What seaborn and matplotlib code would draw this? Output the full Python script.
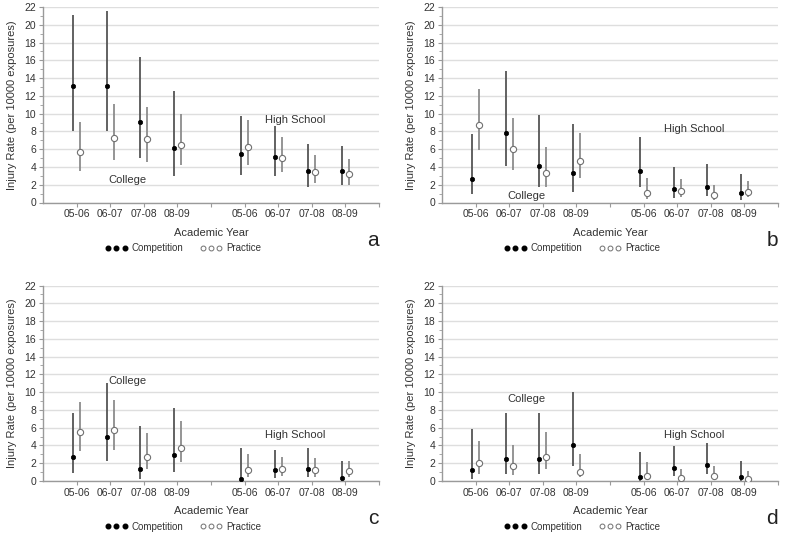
import pandas as pd
import matplotlib
matplotlib.use("Agg")
import matplotlib.pyplot as plt
from matplotlib.lines import Line2D
from matplotlib.ticker import MultipleLocator
import seaborn as sns

years = ["05-06", "06-07", "07-08", "08-09"]
levels = ["College", "High School"]

# each list: 4 college years then 4 high school years
a_comp = [13.1, 13.1, 9.1, 6.1, 5.5, 5.1, 3.6, 3.6]
a_comp_lo = [8.1, 8.0, 5.0, 3.0, 3.1, 3.0, 1.8, 2.0]
a_comp_hi = [21.1, 21.5, 16.4, 12.6, 9.7, 8.6, 6.6, 6.4]
a_prac = [5.7, 7.3, 7.1, 6.5, 6.2, 5.0, 3.4, 3.2]
a_prac_lo = [3.5, 4.8, 4.6, 4.2, 4.2, 3.4, 2.2, 2.0]
a_prac_hi = [9.1, 11.1, 10.8, 10.0, 9.3, 7.4, 5.3, 4.9]

b_comp = [2.7, 7.8, 4.1, 3.3, 3.6, 1.5, 1.8, 1.1]
b_comp_lo = [1.0, 4.1, 1.7, 1.2, 1.8, 0.5, 0.7, 0.3]
b_comp_hi = [7.7, 14.8, 9.9, 8.8, 7.4, 4.0, 4.3, 3.2]
b_prac = [8.7, 6.0, 3.3, 4.7, 1.1, 1.3, 0.8, 1.2]
b_prac_lo = [5.9, 3.7, 1.8, 2.8, 0.4, 0.6, 0.3, 0.6]
b_prac_hi = [12.8, 9.5, 6.3, 7.8, 2.8, 2.7, 2.0, 2.4]

c_comp = [2.7, 5.0, 1.3, 2.9, 0.2, 1.2, 1.3, 0.3]
c_comp_lo = [0.9, 2.3, 0.2, 1.0, 0.0, 0.3, 0.4, 0.0]
c_comp_hi = [7.7, 11.0, 6.2, 8.2, 3.7, 3.5, 3.7, 2.3]
c_prac = [5.5, 5.7, 2.7, 3.7, 1.2, 1.3, 1.2, 1.1]
c_prac_lo = [3.4, 3.5, 1.3, 2.1, 0.4, 0.6, 0.4, 0.4]
c_prac_hi = [8.9, 9.1, 5.4, 6.7, 3.0, 2.7, 2.6, 2.3]

d_comp = [1.2, 2.5, 2.5, 4.1, 0.4, 1.5, 1.8, 0.4]
d_comp_lo = [0.2, 0.8, 0.8, 1.7, 0.0, 0.6, 0.8, 0.0]
d_comp_hi = [5.8, 7.7, 7.7, 10.0, 3.3, 3.9, 4.3, 2.3]
d_prac = [2.0, 1.7, 2.7, 1.0, 0.6, 0.3, 0.6, 0.2]
d_prac_lo = [0.8, 0.7, 1.4, 0.4, 0.2, 0.0, 0.2, 0.0]
d_prac_hi = [4.5, 4.0, 5.5, 3.0, 2.1, 1.4, 1.7, 1.1]

panel_data = {
    "a": [a_comp, a_comp_lo, a_comp_hi, a_prac, a_prac_lo, a_prac_hi],
    "b": [b_comp, b_comp_lo, b_comp_hi, b_prac, b_prac_lo, b_prac_hi],
    "c": [c_comp, c_comp_lo, c_comp_hi, c_prac, c_prac_lo, c_prac_hi],
    "d": [d_comp, d_comp_lo, d_comp_hi, d_prac, d_prac_lo, d_prac_hi],
}

rows = []
for panel, (cr, cl, ch, pr, pl, ph) in panel_data.items():
    for i in range(8):
        level = levels[i // 4]
        year = years[i % 4]
        rows.append([panel, level, year, "Competition", cr[i], cl[i], ch[i]])
        rows.append([panel, level, year, "Practice", pr[i], pl[i], ph[i]])
df = pd.DataFrame(rows, columns=["panel", "level", "year", "type", "rate", "lo", "hi"])

# slot positions: college 1-4, gap at 5, high school 6-9
df["slot"] = df["level"].map({"College": 1, "High School": 6}) + df["year"].map(
    {y: i for i, y in enumerate(years)})
df["x"] = df["slot"] + df["type"].map({"Competition": -0.1, "Practice": 0.1})

sns.set_theme(style="ticks")
plt.rcParams["font.family"] = ["Liberation Sans", "DejaVu Sans"]

W, H = 785, 538
fig = plt.figure(figsize=(W / 100, H / 100), dpi=100)

# left, top pixel of each axes (width 336, height 196)
boxes = {"a": (43, 7), "b": (442, 7), "c": (43, 285.5), "d": (442, 285.5)}
label_pos = {
    "a": ((2.5, 2.5), (7.5, 9.3)),
    "b": ((2.5, 0.7), (7.5, 8.3)),
    "c": ((2.5, 11.3), (7.5, 5.2)),
    "d": ((2.5, 9.2), (7.5, 5.2)),
}

for panel, (px, py) in boxes.items():
    ax = fig.add_axes([px / W, 1 - (py + 195.5) / H, 336 / W, 195.5 / H])
    sub = df[df.panel == panel]
    comp = sub[sub.type == "Competition"]
    prac = sub[sub.type == "Practice"]

    ax.vlines(comp.x, comp.lo, comp.hi, colors="#555555", lw=1.3, zorder=2)
    ax.vlines(prac.x, prac.lo, prac.hi, colors="#8c8c8c", lw=1.3, zorder=2)
    sns.scatterplot(x=comp.x, y=comp.rate, ax=ax, color="black", s=10,
                    edgecolor="black", linewidth=0.5, zorder=3, legend=False)
    sns.scatterplot(x=prac.x, y=prac.rate, ax=ax, color="white", s=20,
                    edgecolor="#707070", linewidth=0.8, zorder=3, legend=False)

    ax.set_xlim(0, 10)
    ax.set_ylim(0, 22)
    ax.set_xticks(range(1, 11))
    ax.set_xticklabels(years + [""] + years + [""])
    ax.yaxis.set_major_locator(MultipleLocator(2))
    ax.yaxis.set_minor_locator(MultipleLocator(1))
    ax.grid(axis="y", color="#dedede", lw=1)
    ax.set_axisbelow(True)
    for s in ["top", "right"]:
        ax.spines[s].set_visible(False)
    for s in ["left", "bottom"]:
        ax.spines[s].set_color("#9a9a9a")
        ax.spines[s].set_linewidth(1.0)
    ax.tick_params(axis="both", which="major", length=3, width=0.8, color="#9a9a9a",
                   labelsize=7.5, labelcolor="#333333", pad=2)
    ax.tick_params(axis="y", which="minor", length=2, width=0.6, color="#9a9a9a")
    ax.set_xlabel("Academic Year", fontsize=8, color="#333333", labelpad=6)
    ax.set_ylabel("Injury Rate (per 10000 exposures)", fontsize=8, color="#333333",
                  labelpad=5)

    (cx, cy), (hx, hy) = label_pos[panel]
    ax.text(cx, cy, "College", ha="center", va="center", fontsize=8, color="#333333")
    ax.text(hx, hy, "High School", ha="center", va="center", fontsize=8,
            color="#333333")

    handles = [
        Line2D([], [], ls="none", marker="o", markersize=3.3, color="black"),
        Line2D([], [], ls="none", marker="o", markersize=3.5, markerfacecolor="white",
               markeredgecolor="#707070", markeredgewidth=0.7),
    ]
    ax.legend(handles, ["Competition", "Practice"], ncol=2, numpoints=3,
              loc="center", bbox_to_anchor=(140 / 336, -46 / 196), frameon=False,
              fontsize=7, handlelength=2.3, handletextpad=0.4, columnspacing=1.7,
              labelcolor="#333333")

    fig.text((px + 330) / W, 1 - (py + 233) / H, panel, ha="center", va="center",
             fontsize=15, color="#222222")

fig.savefig("out.png", dpi=100)
